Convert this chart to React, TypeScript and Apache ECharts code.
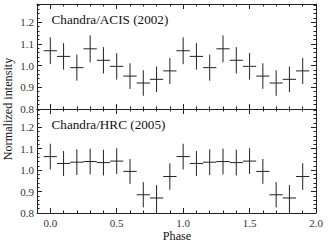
import React, { useEffect, useRef } from "react";
import * as echarts from "echarts";

const phases = [0.0, 0.1, 0.2, 0.3, 0.4, 0.5, 0.6, 0.7, 0.8, 0.9, 1.0, 1.1, 1.2, 1.3, 1.4, 1.5, 1.6, 1.7, 1.8, 1.9];
const acisIntensity = [1.069, 1.043, 0.991, 1.078, 1.025, 0.997, 0.952, 0.920, 0.937, 0.976, 1.069, 1.043, 0.991, 1.078, 1.025, 0.997, 0.952, 0.920, 0.937, 0.976];
const acisError = [0.062, 0.061, 0.060, 0.062, 0.061, 0.061, 0.059, 0.059, 0.059, 0.060, 0.062, 0.061, 0.060, 0.062, 0.061, 0.061, 0.059, 0.059, 0.059, 0.060];
const hrcIntensity = [1.063, 1.031, 1.037, 1.040, 1.035, 1.042, 0.994, 0.885, 0.870, 0.970, 1.063, 1.031, 1.037, 1.040, 1.035, 1.042, 0.994, 0.885, 0.870, 0.970];
const hrcError = [0.060, 0.058, 0.060, 0.060, 0.060, 0.060, 0.058, 0.059, 0.060, 0.062, 0.060, 0.058, 0.060, 0.060, 0.060, 0.060, 0.058, 0.059, 0.060, 0.062];
const xMajorTicks = [0.0, 0.5, 1.0, 1.5, 2.0];
const yMajorTicks = [0.8, 0.9, 1.0, 1.1, 1.2];
const panelLabels = ["Chandra/ACIS (2002)", "Chandra/HRC (2005)"];
const xAxisTitle = "Phase";
const yAxisTitle = "Normalized intensity";

const X_MIN = -0.1;
const X_MAX = 2.0;
const Y_MIN = 0.8;
const Y_MAX = 1.285;
const HALF_BIN = 0.05;
const INK = "#222";
const FONT = "Liberation Serif";

function buildXAxes(gridIndex: number, showLabels: boolean) {
  const base = {
    type: "value",
    gridIndex,
    min: X_MIN,
    max: X_MAX,
    splitLine: { show: false },
  };
  const axes: any[] = [];
  for (const position of ["bottom", "top"]) {
    axes.push({
      ...base,
      position,
      axisLine: { show: true, onZero: false, lineStyle: { color: INK, width: 1 } },
      axisTick: { show: true, inside: true, length: 5, customValues: xMajorTicks, lineStyle: { color: INK, width: 1 } },
      axisLabel: {
        show: showLabels && position === "bottom",
        customValues: xMajorTicks,
        formatter: (v: number) => v.toFixed(1),
        fontFamily: FONT,
        fontSize: 11,
        color: "#333",
        margin: 4,
      },
    });
    axes.push({
      ...base,
      position,
      interval: 0.1,
      axisLine: { show: false, onZero: false },
      axisTick: { show: true, inside: true, length: 2.5, lineStyle: { color: INK, width: 1 } },
      axisLabel: { show: false },
    });
  }
  return axes;
}

function buildYAxes(gridIndex: number) {
  const base = {
    type: "value",
    gridIndex,
    min: Y_MIN,
    max: Y_MAX,
    splitLine: { show: false },
  };
  const axes: any[] = [];
  for (const position of ["left", "right"]) {
    axes.push({
      ...base,
      position,
      axisLine: { show: true, onZero: false, lineStyle: { color: INK, width: 1 } },
      axisTick: { show: true, inside: true, length: 5, customValues: yMajorTicks, lineStyle: { color: INK, width: 1 } },
      axisLabel: {
        show: position === "left",
        customValues: yMajorTicks,
        formatter: (v: number) => v.toFixed(1),
        fontFamily: FONT,
        fontSize: 11,
        color: "#333",
        margin: 3,
      },
    });
    axes.push({
      ...base,
      position,
      interval: 0.02,
      axisLine: { show: false, onZero: false },
      axisTick: { show: true, inside: true, length: 2.5, lineStyle: { color: INK, width: 1 } },
      axisLabel: { show: false },
    });
  }
  return axes;
}

function errorBarSeries(axisBase: number, values: number[], errors: number[]) {
  return {
    type: "custom",
    xAxisIndex: axisBase,
    yAxisIndex: axisBase,
    clip: true,
    encode: { x: 0, y: 1 },
    data: phases.map((p, i) => [p, values[i], errors[i]]),
    renderItem: (_params: any, api: any) => {
      const x = api.value(0);
      const y = api.value(1);
      const e = api.value(2);
      const top = api.coord([x, y + e]);
      const bot = api.coord([x, y - e]);
      const l = api.coord([x - HALF_BIN, y]);
      const r = api.coord([x + HALF_BIN, y]);
      const style = { stroke: INK, lineWidth: 1, fill: "none" };
      return {
        type: "group",
        children: [
          { type: "line", shape: { x1: top[0], y1: top[1], x2: bot[0], y2: bot[1] }, style },
          { type: "line", shape: { x1: l[0], y1: l[1], x2: r[0], y2: r[1] }, style },
        ],
      };
    },
  };
}

export default function App() {
  const ref = useRef<HTMLDivElement>(null);
  useEffect(() => {
    if (!ref.current) return;
    const chart = echarts.init(ref.current, undefined, { renderer: "svg" });
    const textStyle = (size: number, extra: any = {}) => ({
      fontFamily: FONT,
      fontSize: size,
      fill: "#111",
      ...extra,
    });
    const option: any = {
      animation: false,
      backgroundColor: "#fff",
      textStyle: { fontFamily: FONT },
      grid: [
        { left: 37, width: 279, top: 4, height: 105 },
        { left: 37, width: 279, top: 109, height: 104 },
      ],
      xAxis: [...buildXAxes(0, false), ...buildXAxes(1, true)],
      yAxis: [...buildYAxes(0), ...buildYAxes(1)],
      series: [errorBarSeries(0, acisIntensity, acisError), errorBarSeries(4, hrcIntensity, hrcError)],
      graphic: [
        { type: "text", x: 51.5, y: 19, style: { text: panelLabels[0], ...textStyle(13.2, { verticalAlign: "middle" }) } },
        { type: "text", x: 51.5, y: 124, style: { text: panelLabels[1], ...textStyle(13.2, { verticalAlign: "middle" }) } },
        {
          type: "text",
          x: 8,
          y: 109,
          rotation: Math.PI / 2,
          style: { text: yAxisTitle, ...textStyle(12.2, { align: "center", verticalAlign: "middle" }) },
        },
        {
          type: "text",
          x: 177,
          y: 236,
          style: { text: xAxisTitle, ...textStyle(12.2, { align: "center", verticalAlign: "middle" }) },
        },
      ],
    };
    chart.setOption(option);
    return () => chart.dispose();
  }, []);
  return (
    <div
      ref={ref}
      style={{ position: "fixed", left: 0, top: 0, width: 328, height: 245, background: "#fff" }}
    />
  );
}
